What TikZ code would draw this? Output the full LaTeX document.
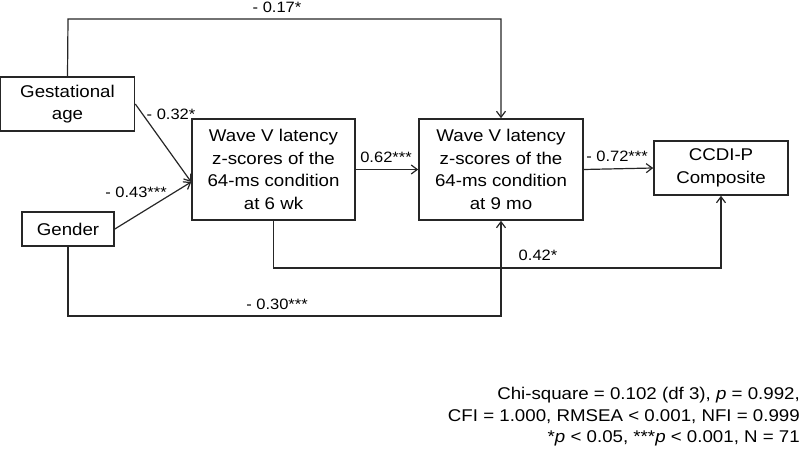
\documentclass[tikz,border=0pt]{standalone}
\usepackage{fontspec}
\setmainfont{Liberation Sans}[FakeStretch=1.1]
\usetikzlibrary{arrows.meta}
\begin{document}
\begin{tikzpicture}[x=1pt,y=-1pt,
  box/.style={draw=black!85, line width=1.6pt, inner sep=0pt, align=center,
    font=\fontsize{17}{22.7}\selectfont},
  conn/.style={draw=black!85, line width=1.2pt},
  arr/.style={conn, -{Straight Barb[length=6pt,width=9pt]}},
  lab/.style={inner sep=0pt, font=\fontsize{15}{18}\selectfont},
  note/.style={inner sep=0pt, align=right, font=\fontsize{17}{21.5}\selectfont}]
\useasboundingbox (0,0) rectangle (800,454);
% nodes
\node[box, minimum width=134pt, minimum height=54pt] (ga) at (67.5,104) {Gestational\\age};
\node[box, minimum width=92pt, minimum height=34pt] (gen) at (68,229) {Gender};
\node[box, minimum width=163pt, minimum height=101pt] (b1) at (273.5,169.5) {Wave V latency\\z-scores of the\\64-ms condition\\at 6 wk};
\node[box, minimum width=164pt, minimum height=101pt] (b2) at (501,169.5) {Wave V latency\\z-scores of the\\64-ms condition\\at 9 mo};
\node[box, minimum width=134pt, minimum height=54pt] (cc) at (721,168) {CCDI-P\\Composite};
\coordinate (in1) at ([yshift=-12.5pt]b1.west);
\coordinate (t1) at (68,19);
\coordinate (t2) at (501,19);
\coordinate (m1) at (273.5,268);
\coordinate (m2) at (721,268);
\coordinate (g1) at (68,316);
\coordinate (g2) at (501,316);
% connectors
\draw[arr] (ga.north) -- (t1) -- (t2) -- (b2.north);
\draw[arr] (ga.east) -- (in1);
\draw[arr] (gen.east) -- (in1);
\draw[arr] (b1.east) -- (b2.west);
\draw[arr] (b2.east) -- (cc.west);
\draw[arr] (b1.south) -- (m1) -- (m2) -- (cc.south);
\draw[arr] (gen.south) -- (g1) -- (g2) -- (b2.south);
% labels
\node[lab] (l1) at (277,7) {- 0.17*};
\node[lab] (l2) at (171,114) {- 0.32*};
\node[lab] (l3) at (136,192) {- 0.43***};
\node[lab] (l4) at (386,157) {0.62***};
\node[lab] (l5) at (617,156) {- 0.72***};
\node[lab] (l6) at (538,255) {0.42*};
\node[lab] (l7) at (277,304) {- 0.30***};
\node[note, anchor=north east] (fit) at (800,387) {Chi-square = 0.102 (df 3), \textit{p} = 0.992,\\CFI = 1.000, RMSEA < 0.001, NFI = 0.999\\*\textit{p} < 0.05, ***\textit{p} < 0.001, N = 71};
\end{tikzpicture}
\end{document}
